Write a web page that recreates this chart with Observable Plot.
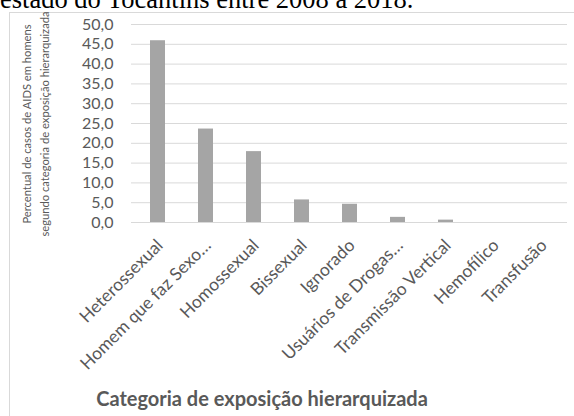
<!DOCTYPE html>
<html>
<head>
<meta charset="utf-8">
<script src="https://cdn.jsdelivr.net/npm/d3@7"></script>
<script src="https://cdn.jsdelivr.net/npm/@observablehq/plot@0.6"></script>
<style>
  html, body { margin: 0; padding: 0; background: #fff; }
  #wrap { position: relative; width: 574px; height: 416px; overflow: hidden; font-family: Lato, "Open Sans", sans-serif; }
  #lead { position: absolute; left: 0; top: -12.2px; font-family: "Liberation Serif", "DejaVu Serif", serif; font-size: 26.5px; line-height: 22px; color: #000; white-space: nowrap; }
  #box { position: absolute; left: 9px; top: 12px; width: 620px; height: 460px; border: 1px solid #d9d9d9; box-sizing: border-box; }
  #ytitle { position: absolute; left: 36px; top: 124px; transform: translate(-50%, -50%) rotate(-90deg); font-size: 11.2px; line-height: 18px; color: #595959; text-align: center; white-space: nowrap; }
  #xtitle { position: absolute; left: 262px; top: 387px; transform: translateX(-50%); font-size: 20px; line-height: 22px; font-weight: bold; color: #595959; white-space: nowrap; }
  #chart { position: absolute; left: 0; top: 0; }
</style>
</head>
<body>
<div id="wrap">
  <div id="lead">estado do Tocantins entre 2008 a 2018.</div>
  <div id="box"></div>
  <div id="chart"></div>
  <div id="ytitle">Percentual de casos de AIDS em homens<br>segundo categoria de exposição hierarquizada</div>
  <div id="xtitle">Categoria de exposição hierarquizada</div>
</div>
<script>
// Exposure categories and the share of male AIDS cases in each (%)
const categories = [
  "Heterossexual",
  "Homem que faz Sexo…",
  "Homossexual",
  "Bissexual",
  "Ignorado",
  "Usuários de Drogas…",
  "Transmissão Vertical",
  "Hemofílico",
  "Transfusão"
];
const percentages = [45.9, 23.6, 17.9, 5.7, 4.6, 1.3, 0.6, 0.0, 0.0];
const yTicks = [0, 5, 10, 15, 20, 25, 30, 35, 40, 45, 50];

const rows = categories.map((c, i) => ({category: c, value: percentages[i]}));
const fmt = d => d.toFixed(1).replace(".", ",");

const chart = Plot.plot({
  width: 574,
  height: 416,
  marginLeft: 131,
  marginRight: 7,
  marginTop: 24,
  marginBottom: 194,
  style: {fontFamily: "Lato, 'Open Sans', sans-serif", color: "#595959", background: "transparent"},
  x: {domain: categories, paddingInner: 0.69, paddingOuter: 0.345, label: null},
  y: {domain: [0, 50], label: null},
  marks: [
    Plot.ruleY(yTicks, {stroke: "#d9d9d9", strokeWidth: 1}),
    Plot.barY(rows, {x: "category", y: "value", fill: "#a5a5a5"}),
    Plot.axisY({ticks: yTicks, tickFormat: fmt, tickSize: 0, tickPadding: 18, fontSize: 16, fill: "#595959", label: null}),
    Plot.axisX({tickRotate: -45, tickSize: 0, tickPadding: 20, dx: 2, fontSize: 17.5, fill: "#595959", label: null})
  ]
});
document.getElementById("chart").appendChild(chart);
</script>
</body>
</html>
